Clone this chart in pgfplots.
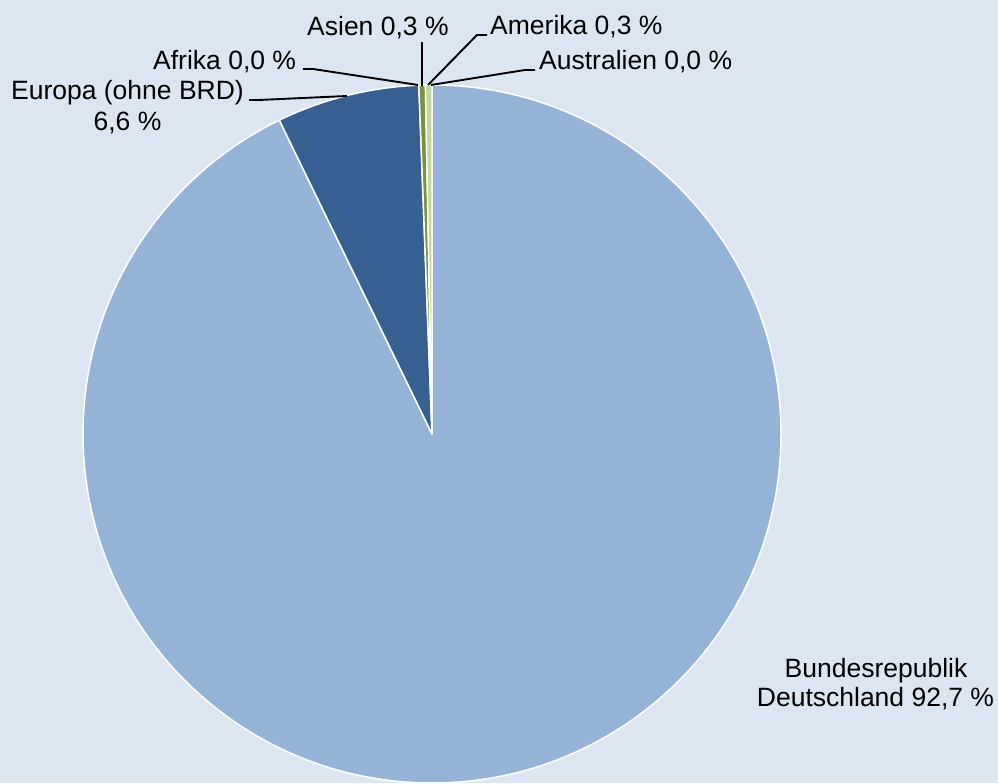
\documentclass[border=0pt]{standalone}
\usepackage{pgfplots}
\pgfplotsset{compat=1.18}
\usepackage{pgfplotstable}
\usepackage{fontspec}
\setmainfont{Liberation Sans}
\definecolor{bg}{HTML}{DCE6F2}
\definecolor{cDE}{HTML}{95B3D7}
\definecolor{cEU}{HTML}{376092}
\definecolor{cAF}{HTML}{4F81BD}
\definecolor{cAS}{HTML}{77933C}
\definecolor{cAM}{HTML}{C3D69B}
\definecolor{cAU}{HTML}{D7E4BD}
\pgfplotstableread[col sep=comma]{
name,value,color
Deutschland,92.7,cDE
Europa,6.6,cEU
Afrika,0.0,cAF
Asien,0.3,cAS
Amerika,0.3,cAM
Australien,0.0,cAU
}\piedata
\tikzset{lbl/.style={font=\fontsize{26.6}{30}\selectfont, inner sep=0pt, text=black},
  lead/.style={black, line width=1.9bp}}
\begin{document}
\begin{tikzpicture}
\begin{axis}[x=1bp, y=1bp, xmin=0, xmax=998, ymin=0, ymax=783, hide axis, clip=false]
\fill[bg] (axis cs:0,0) rectangle (axis cs:998,783);
% total
\pgfmathsetmacro\total{0}
\pgfplotsforeachungrouped \i in {0,...,5}{%
  \pgfplotstablegetelem{\i}{value}\of\piedata
  \pgfmathsetmacro\total{\total+\pgfplotsretval}%
}
\pgfmathsetmacro\cum{0}
\pgfplotsforeachungrouped \i in {0,...,5}{%
  \pgfplotstablegetelem{\i}{value}\of\piedata
  \let\v\pgfplotsretval
  \pgfplotstablegetelem{\i}{color}\of\piedata
  \let\c\pgfplotsretval
  \pgfmathsetmacro\sa{90-\cum/\total*360}%
  \pgfmathsetmacro\cum{\cum+\v}%
  \pgfmathsetmacro\ea{90-\cum/\total*360}%
  \ifdim\v pt>0pt
    \edef\temp{\noexpand\fill[\c, draw=white, line width=1.5bp, line join=round] (axis cs:432,349) -- ++(\sa:349bp) arc[start angle=\sa, end angle=\ea, radius=349bp] -- cycle;}%
    \temp
  \fi
}
% labels
\node[lbl, anchor=base west] at (axis cs:307,747) {Asien 0,3 \%};
\node[lbl, anchor=base west] at (axis cs:490,748) {Amerika 0,3 \%};
\node[lbl, anchor=base west] at (axis cs:539,713) {Australien 0,0 \%};
\node[lbl, anchor=base west] at (axis cs:153,713) {Afrika 0,0 \%};
\node[lbl, anchor=base] at (axis cs:127.5,683) {Europa (ohne BRD)};
\node[lbl, anchor=base] at (axis cs:127.5,652) {6,6 \%};
\node[lbl, anchor=base] at (axis cs:876,105) {Bundesrepublik};
\node[lbl, anchor=base] at (axis cs:875.5,76) {Deutschland 92,7 \%};
% leader lines
\draw[lead] (axis cs:303,714) -- (axis cs:313,714) -- (axis cs:418,698);
\draw[lead] (axis cs:422,741) -- (axis cs:422,697);
\draw[lead] (axis cs:487,748) -- (axis cs:477,748) -- (axis cs:428,698);
\draw[lead] (axis cs:535,713) -- (axis cs:525,713) -- (axis cs:431,698);
\draw[lead] (axis cs:249,683) -- (axis cs:259,683) -- (axis cs:347,687);
\end{axis}
\end{tikzpicture}
\end{document}
